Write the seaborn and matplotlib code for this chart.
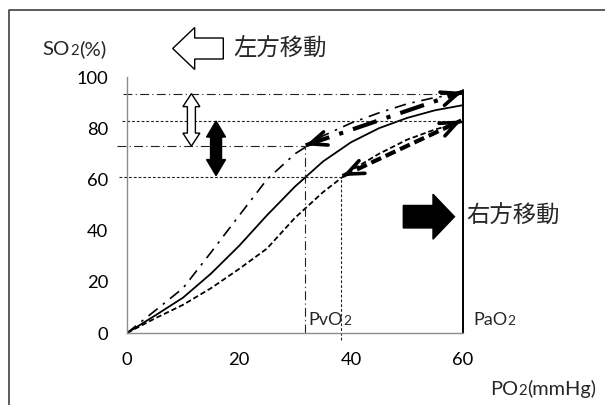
import numpy as np
import pandas as pd
import matplotlib
matplotlib.use("Agg")
import matplotlib.pyplot as plt
import matplotlib.patches as mpatches
import matplotlib.transforms as mtransforms
from matplotlib.lines import Line2D
import seaborn as sns

# ---- data ----
po2 = [0, 5, 10, 15, 20, 25, 30, 35, 40, 45, 50, 55, 60]
so2_left = [0, 8.7, 17.5, 31.5, 45.8, 60, 70, 77, 82, 86, 89.5, 92, 93.5]
so2_normal = [0, 6.8, 13.8, 23.2, 34, 46, 57.2, 67, 74.5, 80, 84, 87, 89]
so2_right = [0, 5.7, 11, 17.5, 25, 33, 45, 55, 63.5, 70, 75.5, 79.5, 82.5]

pao2 = 60
pvo2_left = 31.7
pvo2_right = 38.3
sa_left, sv_left = 93.5, 73
sa_right, sv_right = 83, 61
pa_top = 95

xticks = [0, 20, 40, 60]
yticks = [0, 20, 40, 60, 80, 100]

W, H = 605, 405
sns.set_style("white")
plt.rcParams['font.family'] = ['Lato', 'Noto Sans CJK JP', 'DejaVu Sans']

fig = plt.figure(figsize=(W / 100, H / 100), dpi=100)
ax = fig.add_axes([127 / W, (H - 333) / H, (463 - 127) / W, (333 - 77) / H])
ax.set_xlim(0, 60)
ax.set_ylim(0, 100)

df = pd.DataFrame({"PO2": po2, "left": so2_left, "normal": so2_normal, "right": so2_right})
sns.lineplot(data=df, x="PO2", y="normal", ax=ax, color="black", lw=1.3)
sns.lineplot(data=df, x="PO2", y="left", ax=ax, color="black", lw=1.2,
             linestyle=(0, (7, 4, 1.5, 4)))
sns.lineplot(data=df, x="PO2", y="right", ax=ax, color="black", lw=1.3,
             linestyle=(0, (3, 1.6)))

# guide lines
gk = dict(color="#222222", lw=0.8, clip_on=False)
dd = (0, (8, 3, 1, 3))
ds = (0, (2.5, 1.8))
ax.plot([-0.7, pao2], [sa_left, sa_left], linestyle=dd, **gk)
ax.plot([-0.9, pao2], [sa_right, sa_right], linestyle=ds, **gk)
ax.plot([-1.8, pvo2_left], [sv_left, sv_left], linestyle=dd, **gk)
ax.plot([-1.4, pvo2_right], [sv_right, sv_right], linestyle=ds, **gk)
ax.plot([pvo2_left, pvo2_left], [0, sv_left], linestyle=dd, **gk)
ax.plot([pvo2_right, pvo2_right], [-2.8, sv_right], linestyle=ds, **gk)
ax.plot([pao2, pao2], [0, pa_top], color="black", lw=1.4, clip_on=False)

# thick double arrows along transport
def thick_arrow(p0, p1, ls):
    p0 = np.array(p0, float); p1 = np.array(p1, float)
    ax.plot([p0[0], p1[0]], [p0[1], p1[1]], color="black", lw=3.0,
            linestyle=ls, solid_capstyle="butt", dash_capstyle="butt", clip_on=False)
    d = (p1 - p0)
    for tip, back in ((p1, p1 - 0.06 * d), (p0, p0 + 0.06 * d)):
        ax.annotate("", xy=tip, xytext=back,
                    arrowprops=dict(arrowstyle="->,head_length=1.2,head_width=0.5",
                                    lw=2.6, color="black", shrinkA=0, shrinkB=0,
                                    mutation_scale=10), annotation_clip=False)

thick_arrow((pvo2_left + 0.2, sv_left + 0.3), (pao2 - 0.1, sa_left + 0.7), (0, (6, 2.5, 1, 2.5)))
thick_arrow((pvo2_right + 0.2, sv_right + 0.3), (pao2 - 0.3, sa_right), (0, (2.6, 1.2)))

fig.canvas.draw()

def to_px(x, y):
    return ax.transData.transform((x, y))

def vdouble(xc, y1, y2, shaft, headw, headl, fc):
    (px, py1) = to_px(xc, y1)
    (_, py2) = to_px(xc, y2)
    lo, hi = min(py1, py2), max(py1, py2)
    s, h = shaft / 2, headw / 2
    verts = [(px, hi), (px + h, hi - headl), (px + s, hi - headl), (px + s, lo + headl),
             (px + h, lo + headl), (px, lo), (px - h, lo + headl), (px - s, lo + headl),
             (px - s, hi - headl), (px - h, hi - headl)]
    poly = mpatches.Polygon(verts, closed=True, facecolor=fc, edgecolor="black", lw=1.0,
                            transform=mtransforms.IdentityTransform(), clip_on=False, zorder=5)
    ax.add_artist(poly)

vdouble(11.5, sa_left, sv_left, 8, 17, 13, "white")
vdouble(15.9, sa_right - 0.2, sv_right + 0.5, 11, 19, 16, "black")

def harrow(x_tail, x_tip, yc, shaft, headw, headl, fc):
    yd = H - yc
    s, h = shaft / 2, headw / 2
    sign = 1 if x_tip > x_tail else -1
    xb = x_tip - sign * headl
    verts = [(x_tail, yd + s), (xb, yd + s), (xb, yd + h), (x_tip, yd), (xb, yd - h),
             (xb, yd - s), (x_tail, yd - s)]
    poly = mpatches.Polygon(verts, closed=True, facecolor=fc, edgecolor="black", lw=1.0,
                            transform=mtransforms.IdentityTransform(), clip_on=False)
    fig.add_artist(poly)

harrow(223.3, 172.7, 48.5, 21, 42, 22, "white")
harrow(403.3, 454.5, 216.7, 22.5, 45, 21.5, "black")

# text helpers (pixel coords from top-left)
def ftext(x, y, s, size, **kw):
    return fig.text(x / W, 1 - y / H, s, fontsize=size, **kw)

def subtext(x, y, parts):
    r = fig.canvas.get_renderer()
    for s, size in parts:
        t = ftext(x, y, s, size, ha="left", va="baseline")
        bb = t.get_window_extent(renderer=r)
        x = bb.x1 + 0.2

subtext(42.5, 55, [("SO", 14.7), ("2", 10.7), ("(%)", 14.7)])
subtext(490, 395, [("PO", 14.4), ("2", 10.8), ("(mmHg)", 14.4)])
subtext(308.5, 325, [("PvO", 13), ("2", 9.8)])
subtext(473, 325, [("PaO", 13), ("2", 9.8)])
ftext(233, 48.5, "左方移動", 16.8, ha="left", va="center", family=["Noto Sans CJK JP"])
ftext(466, 216.5, "右方移動", 16.8, ha="left", va="center", family=["Noto Sans CJK JP"])

# axes styling
ax.set_xticks(xticks)
ax.set_yticks(yticks)
ax.set_xlabel("")
ax.set_ylabel("")
for side in ("top", "right"):
    ax.spines[side].set_visible(False)
for side in ("left", "bottom"):
    ax.spines[side].set_color("#8c8c8c")
    ax.spines[side].set_linewidth(1.0)
ax.tick_params(axis="both", direction="out", length=3.6, width=0.8, color="#8c8c8c",
               labelsize=13.2, labelcolor="black")
ax.tick_params(axis="y", pad=10)
ax.tick_params(axis="x", pad=10)

# outer border (chart area, cropped on right/bottom)
fig.add_artist(Line2D([8.5 / W, 8.5 / W, 1.0], [0.0, 1 - 9.5 / H, 1 - 9.5 / H],
                      transform=fig.transFigure, color="#404040", lw=1.2))

fig.savefig("out.png", dpi=100)
